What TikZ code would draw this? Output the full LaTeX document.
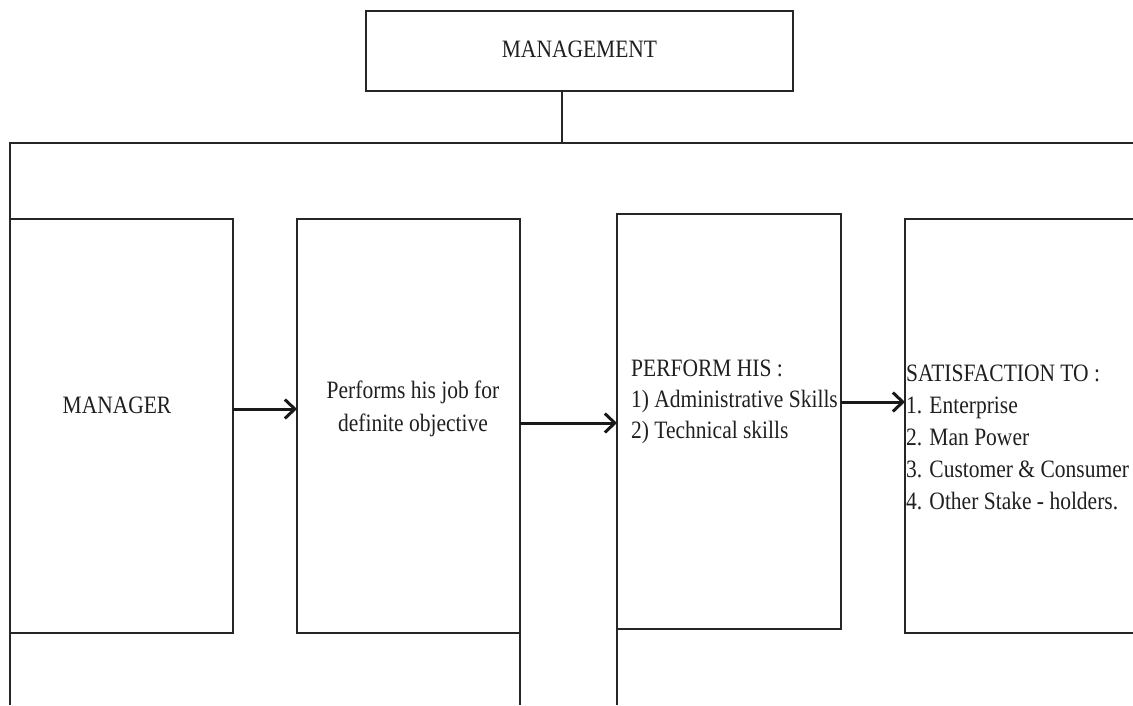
\documentclass[tikz,border=0pt]{standalone}
\usepackage{fontspec}
\setmainfont{Liberation Serif}[FakeStretch=0.86]
\usetikzlibrary{arrows.meta}
\begin{document}
\begin{tikzpicture}[x=1pt,y=-1pt,
  ln/.style={draw=black!85,line width=1.6pt},
  box/.style={ln,rectangle,inner sep=0pt,outer sep=0pt},
  txt/.style={text=black!88,inner sep=0pt,font=\fontsize{25}{32}\selectfont},
  arr/.style={draw=black!90,line width=3pt,-{Straight Barb[length=10pt,width=19pt,line width=3pt]}}]
\useasboundingbox (0,0) rectangle (1133,705);
% top box
\node[box,minimum width=427pt,minimum height=80pt] (mgmt) at (579.5,51) {};
\node[txt,anchor=base] (tm) at (579.5,57) {MANAGEMENT};
% bus
\coordinate (j) at (562,143);
\coordinate (bl) at (10,143);
\coordinate (br) at (1140,143);
\draw[ln] (j |- mgmt.south) -- (j);
\draw[ln,line cap=rect] (bl) -- (br);
% boxes
\node[box,minimum width=223pt,minimum height=414pt] (b1) at (121.5,426) {};
\node[box,minimum width=223pt,minimum height=414pt] (b2) at (408.5,426) {};
\node[box,minimum width=224pt,minimum height=415pt] (b3) at (729,421.5) {};
\node[box,minimum width=260pt,minimum height=414pt] (b4) at (1035,426) {};
% down lines
\coordinate (e1) at (10,705);
\coordinate (e2) at (520,705);
\coordinate (e3) at (617,705);
\draw[ln] (bl) -- (e1);
\draw[ln] (b2.south east) -- (e2);
\draw[ln] (b3.south west) -- (e3);
% texts
\node[txt,anchor=base] (t1) at (117,413) {MANAGER};
\node[txt,anchor=base] (t2) at (413,398) {\fontsize{25}{33}\selectfont\begin{tabular}[t]{@{}c@{}}Performs his job for\\definite objective\end{tabular}};
\node[txt,anchor=base west] (t3) at (631,376) {\fontsize{25}{31}\selectfont\begin{tabular}[t]{@{}l@{}}PERFORM HIS :\\1) Administrative Skills\\2) Technical skills\end{tabular}};
\node[txt,anchor=base west] (t4) at (906,381) {\fontsize{25}{32}\selectfont\begin{tabular}[t]{@{}l@{}}SATISFACTION TO :\\1. Enterprise\\2. Man Power\\3. Customer \& Consumer\\4. Other Stake - holders.\end{tabular}};
% arrows
\coordinate (a1) at (0,409);
\coordinate (a2) at (0,423);
\coordinate (a3) at (0,402);
\draw[arr] (b1.east |- a1) -- (b2.west |- a1);
\draw[arr] (b2.east |- a2) -- (b3.west |- a2);
\draw[arr] (b3.east |- a3) -- (b4.west |- a3);
\end{tikzpicture}
\end{document}
